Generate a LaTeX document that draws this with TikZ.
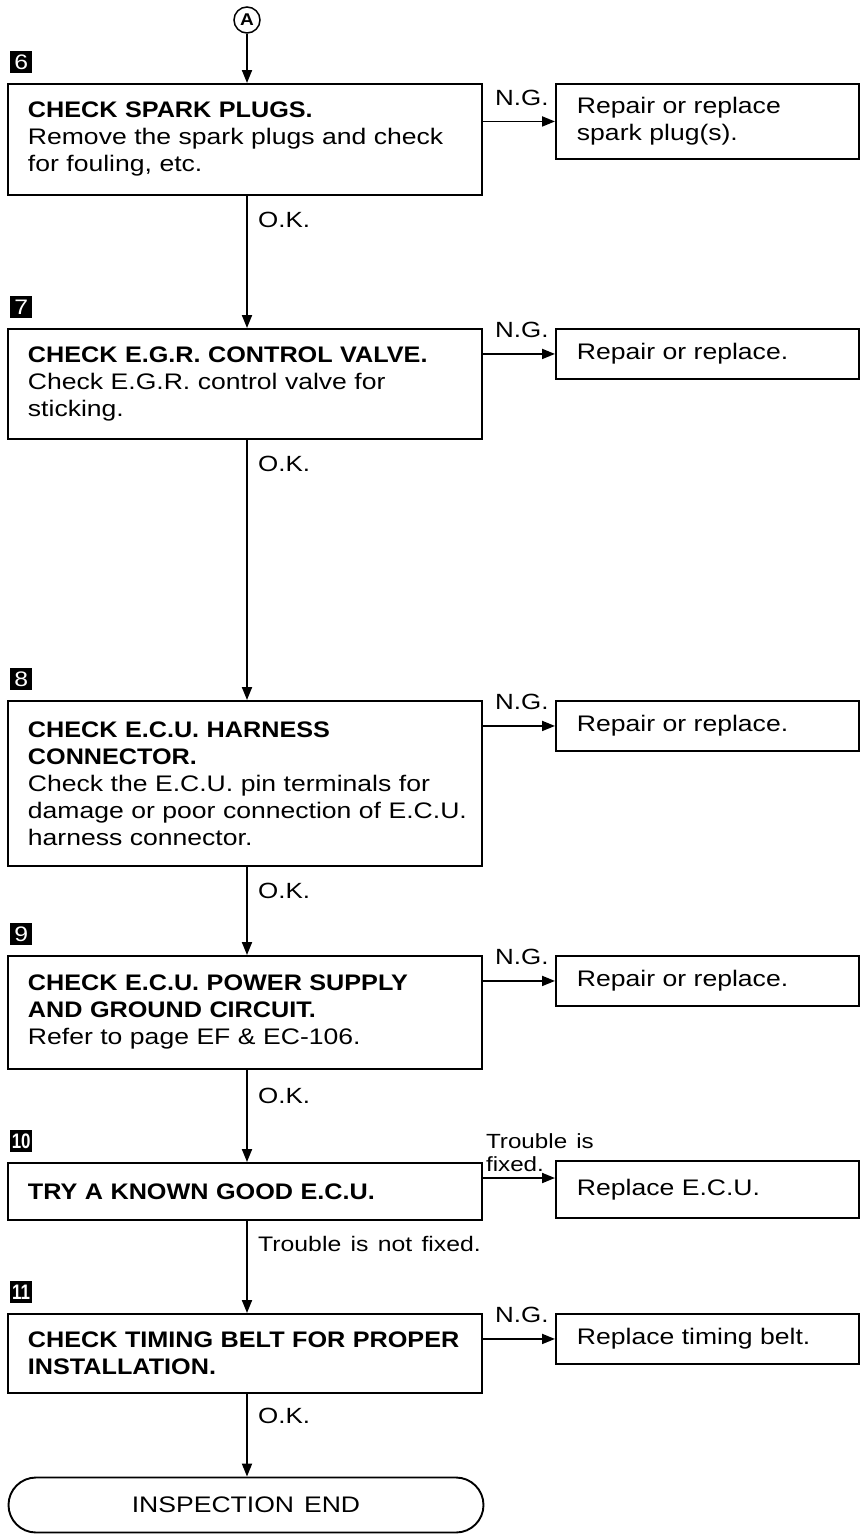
\documentclass[tikz,border=0pt]{standalone}
\usepackage{fontspec}
\setmainfont{Liberation Sans}[FakeStretch=1.18, WordSpace=1.35, BoldFeatures={FakeStretch=1.12}]
\usetikzlibrary{arrows.meta,shapes.misc,calc}
\begin{document}
\begin{tikzpicture}[x=1pt,y=-1pt,
  mainbox/.style={draw, line width=1.9pt, rectangle, anchor=north west, text width=434pt, inner xsep=20pt, inner ysep=0pt, align=left, font=\fontsize{22.5}{27}\selectfont},
  repbox/.style={draw, line width=1.9pt, rectangle, anchor=north west, text width=261pt, inner xsep=21pt, inner ysep=0pt, align=left, font=\fontsize{22.5}{27}\selectfont},
  badge/.style={fill=black, text=white, minimum size=22pt, inner sep=0pt, anchor=south west, font=\fontsize{21}{21}\selectfont},
  lab/.style={inner sep=0pt, font=\fontsize{22}{22}\selectfont},
  arr/.style={line width=1.9pt, -{Triangle[length=13pt,width=10pt]}}
]
\useasboundingbox (0,0) rectangle (860,1537);
\coordinate (cx) at (247,0);

% circle A
\node[draw, circle, line width=1.5pt, minimum size=26pt, inner sep=0pt, font=\fontsize{17}{17}\selectfont\bfseries] (A) at (247,20) {A};

% main boxes
\node[mainbox, minimum height=111pt] (b6) at (7,83) {\textbf{CHECK SPARK PLUGS.}\\\mbox{Remove the spark plugs and check}\\for fouling, etc.};
\node[mainbox, minimum height=110pt] (b7) at (7,328) {\textbf{\mbox{CHECK E.G.R. CONTROL VALVE.}}\\Check E.G.R. control valve for\\sticking.};
\node[mainbox, minimum height=165pt] (b8) at (7,700) {\textbf{CHECK E.C.U. HARNESS}\\\textbf{CONNECTOR.}\\\mbox{Check the E.C.U. pin terminals for}\\\mbox{damage or poor connection of E.C.U.}\\harness connector.};
\node[mainbox, minimum height=113pt] (b9) at (7,955) {\textbf{CHECK E.C.U. POWER SUPPLY}\\\textbf{AND GROUND CIRCUIT.}\\Refer to page EF \& EC-106.};
\node[mainbox, minimum height=57pt] (b10) at (7,1162) {\textbf{TRY A KNOWN GOOD E.C.U.}};
\node[mainbox, minimum height=79pt] (b11) at (7,1313) {\textbf{\mbox{CHECK TIMING BELT FOR PROPER}}\\\textbf{INSTALLATION.}};

\node[draw, line width=1.9pt, rounded rectangle, minimum width=475pt, minimum height=55pt, inner sep=0pt, font=\fontsize{22.5}{27}\selectfont] (end) at (246,1505) {INSPECTION END};

% badges
\node[badge] (n6) at ($(b6.north west)+(3,-10)$) {6};
\node[badge] (n7) at ($(b7.north west)+(3,-10)$) {7};
\node[badge] (n8) at ($(b8.north west)+(3,-10)$) {8};
\node[badge] (n9) at ($(b9.north west)+(3,-10)$) {9};
\node[badge] (n10) at ($(b10.north west)+(3,-10)$) {\scalebox{0.72}[1]{\textbf{10}}};
\node[badge] (n11) at ($(b11.north west)+(3,-10)$) {\scalebox{0.72}[1]{\textbf{11}}};

% repair boxes
\node[repbox, minimum height=75pt] (r6) at (555,83) {Repair or replace\\spark plug(s).};
\node[repbox, minimum height=50pt] (r7) at (555,328) {Repair or replace.};
\node[repbox, minimum height=50pt] (r8) at (555,700) {Repair or replace.};
\node[repbox, minimum height=50pt] (r9) at (555,955) {Repair or replace.};
\node[repbox, minimum height=57pt] (r10) at (555,1160) {Replace E.C.U.};
\node[repbox, minimum height=50pt] (r11) at (555,1313) {Replace timing belt.};

% vertical flow
\draw[arr] (A.south) -- (b6.north -| cx);
\draw[arr] (b6.south -| cx) -- (b7.north -| cx);
\draw[arr] (b7.south -| cx) -- (b8.north -| cx);
\draw[arr] (b8.south -| cx) -- (b9.north -| cx);
\draw[arr] (b9.south -| cx) -- (b10.north -| cx);
\draw[arr] (b10.south -| cx) -- (b11.north -| cx);
\draw[arr] (b11.south -| cx) -- (end.north -| cx);

% O.K. labels
\node[lab, anchor=west] (ok6) at ($(b6.south -| cx)+(11,24)$) {O.K.};
\node[lab, anchor=west] (ok7) at ($(b7.south -| cx)+(11,24)$) {O.K.};
\node[lab, anchor=west] (ok8) at ($(b8.south -| cx)+(11,24)$) {O.K.};
\node[lab, anchor=west] (ok9) at ($(b9.south -| cx)+(11,26)$) {O.K.};
\node[lab, anchor=west, font=\fontsize{21}{22}\selectfont] (nf10) at ($(b10.south -| cx)+(11,23)$) {Trouble is not fixed.};
\node[lab, anchor=west] (ok11) at ($(b11.south -| cx)+(11,22)$) {O.K.};

% N.G. branches
\foreach \i in {6,7,8,9,11}{
  \draw[arr] (b\i.east |- r\i.west) -- (r\i.west);
  \node[lab, anchor=base west] (ng\i) at ($(b\i.east |- r\i.west)+(12,-16)$) {N.G.};
}
\coordinate (t10) at ($(b10.north east)+(0,16)$);
\draw[arr] (t10) -- (t10 -| r10.west);
\node[lab, anchor=south west, align=left, font=\fontsize{20.5}{23}\selectfont] (fx10) at ($(t10)+(3,-6)$) {Trouble is\\fixed.};
\end{tikzpicture}
\end{document}
